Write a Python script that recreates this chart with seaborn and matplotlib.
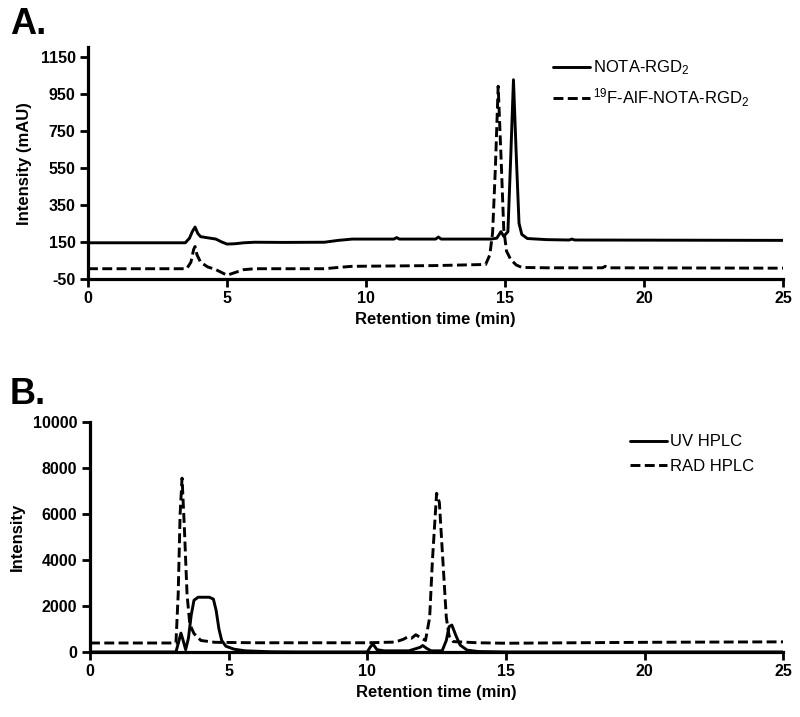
import numpy as np
import pandas as pd
import matplotlib
matplotlib.use("Agg")
import matplotlib.pyplot as plt
import seaborn as sns

# ---------------- Data ----------------
# Panel A: NOTA-RGD2 (solid)
a_nota_t = [0.0, 3.5, 3.65, 3.75, 3.85, 3.95, 4.05, 4.3, 4.6, 4.8, 5.0, 5.3, 5.6, 6.0, 7.0,
            8.5, 9.0, 9.5, 11.0, 11.1, 11.2, 12.5, 12.6, 12.7, 14.5, 14.7, 14.85, 14.95,
            15.1, 15.2, 15.3, 15.4, 15.5, 15.6, 15.8, 16.5, 17.3, 17.4, 17.5, 25.0]
a_nota_v = [145, 145, 170, 205, 230, 195, 178, 172, 165, 150, 138, 140, 145, 148, 147,
            148, 158, 165, 165, 173, 165, 165, 176, 165, 165, 170, 205, 180,
            205, 600, 1025, 620, 250, 190, 168, 162, 160, 165, 160, 158]
# Panel A: 19F-AlF-NOTA-RGD2 (dashed)
a_alf_t = [0.0, 3.55, 3.7, 3.8, 3.85, 3.92, 4.05, 4.3, 4.6, 5.0, 5.3, 5.6, 6.0, 8.5, 9.0,
           9.5, 11.0, 12.5, 14.3, 14.45, 14.55, 14.65, 14.75, 14.85, 14.95, 15.05,
           15.2, 15.4, 15.6, 16.5, 18.5, 18.6, 18.7, 25.0]
a_alf_v = [5, 5, 40, 110, 125, 80, 40, 15, 0, -30, -15, 0, 5, 5, 12,
           18, 20, 22, 28, 80, 200, 550, 990, 620, 220, 100,
           55, 25, 12, 10, 10, 18, 10, 8]

# Panel B: UV HPLC (solid)
b_uv_t = [0.0, 3.1, 3.2, 3.28, 3.36, 3.45, 3.55, 3.65, 3.75, 3.9, 4.3, 4.45, 4.55, 4.65,
          4.75, 4.9, 5.2, 5.6, 6.5, 7.5, 10.0, 10.1, 10.2, 10.35, 10.6, 11.5, 11.9,
          12.0, 12.15, 12.3, 12.7, 12.85, 12.95, 13.05, 13.2, 13.35, 13.6, 14.0,
          15.0, 25.0]
b_uv_v = [0, 0, 450, 820, 500, 100, 600, 1600, 2250, 2380, 2380, 2300, 1800, 1000,
          500, 250, 120, 50, 10, 0, 0, 200, 350, 100, 50, 50, 200,
          280, 150, 50, 50, 500, 1100, 1170, 700, 300, 80, 20,
          0, 0]
# Panel B: RAD HPLC (dashed)
b_rad_t = [0.0, 3.1, 3.18, 3.25, 3.32, 3.4, 3.5, 3.6, 3.75, 4.0, 4.5, 6.0, 10.0, 11.0,
           11.3, 11.45, 11.6, 11.75, 11.95, 12.1, 12.25, 12.35, 12.5, 12.6, 12.75,
           12.85, 12.95, 13.1, 14.0, 15.0, 20.0, 25.0]
b_rad_v = [390, 390, 2500, 6000, 7560, 5500, 2500, 1200, 800, 500, 420, 400, 400, 430,
           550, 650, 600, 750, 600, 500, 1500, 4000, 6900, 6500, 3500,
           1500, 700, 450, 400, 380, 420, 440]

a_xticks = [0, 5, 10, 15, 20, 25]
a_yticks = [-50, 150, 350, 550, 750, 950, 1150]
b_xticks = [0, 5, 10, 15, 20, 25]
b_yticks = [0, 2000, 4000, 6000, 8000, 10000]

# ---------------- Style ----------------
sns.set_style("ticks")
plt.rcParams["font.family"] = ["Liberation Sans", "DejaVu Sans"]
plt.rcParams["mathtext.default"] = "regular"
plt.rcParams["text.color"] = "black"
plt.rcParams["axes.labelcolor"] = "black"
plt.rcParams["xtick.color"] = "black"
plt.rcParams["ytick.color"] = "black"

fig = plt.figure(figsize=(8.0, 7.17), dpi=100)
axA = fig.add_axes([0.11, 0.611, 0.869, 0.323])
axB = fig.add_axes([0.1125, 0.0907, 0.8665, 0.3207])

dash = (3.4, 1.5)
lw = 2.1

dfA1 = pd.DataFrame({"t": a_nota_t, "v": a_nota_v})
dfA2 = pd.DataFrame({"t": a_alf_t, "v": a_alf_v})
sns.lineplot(data=dfA1, x="t", y="v", ax=axA, color="black", lw=lw,
             label="NOTA-RGD$_2$", estimator=None, sort=False)
sns.lineplot(data=dfA2, x="t", y="v", ax=axA, color="black", lw=lw,
             label="$^{19}$F-AlF-NOTA-RGD$_2$", estimator=None, sort=False)
axA.lines[1].set_dashes(dash)

dfB1 = pd.DataFrame({"t": b_uv_t, "v": b_uv_v})
dfB2 = pd.DataFrame({"t": b_rad_t, "v": b_rad_v})
sns.lineplot(data=dfB1, x="t", y="v", ax=axB, color="black", lw=lw,
             label="UV HPLC", estimator=None, sort=False)
sns.lineplot(data=dfB2, x="t", y="v", ax=axB, color="black", lw=lw,
             label="RAD HPLC", estimator=None, sort=False)
axB.lines[1].set_dashes(dash)

for ax, yt, xt, ylim, ylabel in [
        (axA, a_yticks, a_xticks, (-50, 1200), "Intensity (mAU)"),
        (axB, b_yticks, b_xticks, (0, 10000), "Intensity")]:
    ax.set_xlim(0, 25)
    ax.set_ylim(*ylim)
    ax.set_xticks(xt)
    ax.set_yticks(yt)
    ax.set_xticklabels([str(v) for v in xt], fontsize=11.5, fontweight="bold", color="black")
    ax.set_yticklabels([str(v) for v in yt], fontsize=11.5, fontweight="bold", color="black")
    ax.set_xlabel("Retention time (min)", fontsize=12, fontweight="bold", labelpad=4,
                  color="black")
    ax.set_ylabel(ylabel, fontsize=12, fontweight="bold", labelpad=6, color="black")
    sns.despine(ax=ax)
    for s in ["left", "bottom"]:
        ax.spines[s].set_linewidth(2.3)
        ax.spines[s].set_color("black")
    ax.tick_params(axis="both", direction="out", length=6, width=2.0, colors="black", pad=3)
    ax.set_facecolor("white")

legA = axA.legend(loc="upper left", bbox_to_anchor=(0.66, 0.98), frameon=False,
                  fontsize=12, handlelength=2.2, handletextpad=0.15, labelspacing=0.55,
                  borderaxespad=0)
legB = axB.legend(loc="upper left", bbox_to_anchor=(0.77, 0.975), frameon=False,
                  fontsize=12, handlelength=2.2, handletextpad=0.15, labelspacing=0.55,
                  borderaxespad=0)
for leg in [legA, legB]:
    hl = leg.get_lines()
    hl[1].set_dashes(dash)
    for h in hl:
        h.set_linewidth(lw)
    for t in leg.get_texts():
        t.set_color("black")

fig.text(0.012, 0.953, "A.", fontsize=26, fontweight="bold", ha="left", va="baseline",
         color="black")
fig.text(0.012, 0.437, "B.", fontsize=26, fontweight="bold", ha="left", va="baseline",
         color="black")

fig.savefig("out.png", dpi=100, facecolor="white")
